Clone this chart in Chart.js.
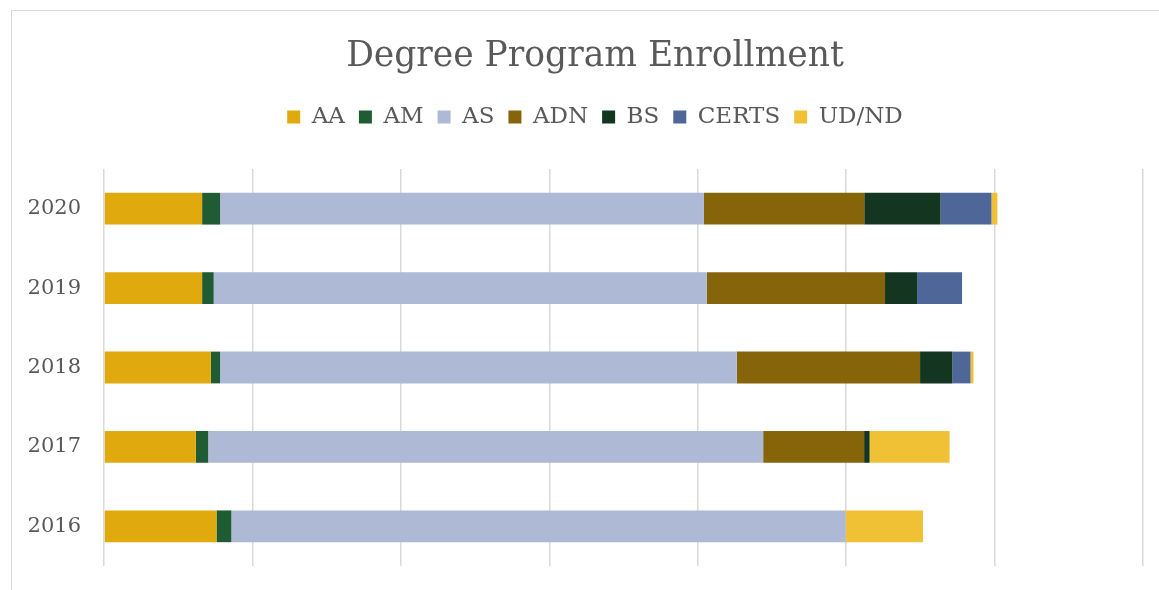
<!DOCTYPE html>
<html lang="en">
<head>
    <meta charset="UTF-8">
    <title>Degree Program Enrollment</title>
    <script src="https://cdn.jsdelivr.net/npm/chart.js"></script>
    <style>
        body { margin: 0; background: #fff; overflow: hidden; }
        .frame {
            position: absolute;
            left: 11px;
            top: 10px;
            width: 2000px;
            height: 2000px;
            border: 1px solid #d9d9d9;
        }
        .chart-box {
            position: absolute;
            left: 0;
            top: 0;
            width: 1159px;
            height: 590px;
            overflow: hidden;
        }
    </style>
</head>
<body>
<div class="frame"></div>
<div class="chart-box">
    <canvas id="enrollChart" width="1168" height="590"></canvas>
</div>
<script>
    const years = ['2016', '2017', '2018', '2019', '2020'];

    const aa    = [75.8, 61.9, 72.0, 66.1, 66.1];
    const am    = [10.0, 8.3, 6.2, 7.8, 12.1];
    const as    = [413.9, 373.9, 348.1, 332.3, 326.0];
    const adn   = [0, 68.0, 123.5, 120.0, 108.0];
    const bs    = [0, 3.7, 21.8, 21.6, 51.4];
    const certs = [0, 0, 12.2, 30.3, 34.3];
    const udnd  = [52.1, 53.9, 2.0, 0, 4.0];

    const seriesNames = ['AA', 'AM', 'AS', 'ADN', 'BS', 'CERTS', 'UD/ND'];
    const seriesData = [aa, am, as, adn, bs, certs, udnd];
    const seriesColors = ['#e0a90e', '#1f5c33', '#aeb9d6', '#86650a', '#143520', '#4f6698', '#f0c035'];

    const textColor = '#595959';
    const serif = "'DejaVu Serif', 'Liberation Serif', serif";

    // push the plot area down a bit below the legend
    const legendGap = {
        id: 'legendGap',
        beforeLayout(chart) {
            const legend = chart.legend;
            if (legend && !legend._gapPatched) {
                const fit = legend.fit;
                legend.fit = function () {
                    fit.call(this);
                    this.height += 30.5;
                };
                legend._gapPatched = true;
            }
        }
    };

    const ctx = document.getElementById('enrollChart').getContext('2d');
    new Chart(ctx, {
        type: 'bar',
        data: {
            labels: years,
            datasets: seriesNames.map((name, i) => ({
                label: name,
                data: seriesData[i],
                backgroundColor: seriesColors[i],
                borderWidth: 0,
                barPercentage: 0.4,
                categoryPercentage: 1.0
            }))
        },
        options: {
            indexAxis: 'y',
            responsive: false,
            animation: false,
            layout: {
                padding: { left: 22, right: 0, top: 0, bottom: 24 }
            },
            plugins: {
                title: {
                    display: true,
                    text: 'Degree Program Enrollment',
                    color: textColor,
                    font: { family: serif, size: 34.5, weight: 'normal' },
                    padding: { top: 36.5, bottom: 13.6 }
                },
                legend: {
                    position: 'top',
                    labels: {
                        color: textColor,
                        font: { family: serif, size: 23 },
                        boxWidth: 13,
                        boxHeight: 13,
                        padding: 14
                    }
                },
                tooltip: { enabled: false }
            },
            scales: {
                x: {
                    stacked: true,
                    min: 0,
                    max: 700,
                    ticks: { display: false, stepSize: 100 },
                    grid: { color: '#d9d9d9', lineWidth: 1.5, drawTicks: false },
                    border: { display: false }
                },
                y: {
                    stacked: true,
                    reverse: true,
                    grid: { display: false, drawTicks: false },
                    border: { display: false },
                    ticks: {
                        color: textColor,
                        font: { family: serif, size: 21 },
                        padding: 23
                    },
                    afterFit(scale) {
                        scale.width = 82;
                        // the big tick padding should not eat into the plot height
                        scale.paddingTop = 0;
                        scale.paddingBottom = 0;
                    }
                },
                // empty axis on the right so the title/legend sit where the original has them
                yRight: {
                    type: 'category',
                    labels: years,
                    position: 'right',
                    grid: { display: false, drawTicks: false },
                    border: { display: false },
                    ticks: { display: false },
                    afterFit(scale) {
                        scale.width = 25;
                    }
                }
            }
        },
        plugins: [legendGap]
    });
</script>
</body>
</html>
